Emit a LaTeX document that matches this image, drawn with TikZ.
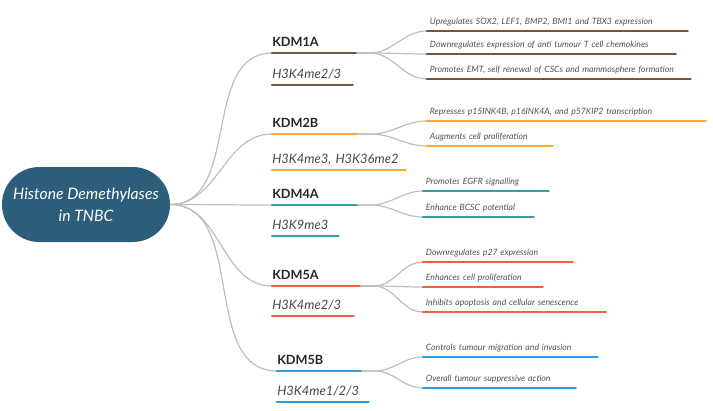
\documentclass[tikz,border=0pt]{standalone}
\usepackage{fontspec}
\setmainfont{Lato}
\definecolor{hubfill}{RGB}{44,94,122}
\definecolor{cBrown}{RGB}{118,84,66}
\definecolor{cOrange}{RGB}{247,174,52}
\definecolor{cTeal}{RGB}{56,158,160}
\definecolor{cRed}{RGB}{242,96,60}
\definecolor{cBlue}{RGB}{48,156,222}
\definecolor{connGray}{RGB}{190,190,190}
\tikzset{
  hub/.style={fill=hubfill, text=white, rounded corners=28pt, minimum width=126pt, minimum height=56.25pt,
    align=center, font=\itshape\fontsize{11.8}{16.5}\selectfont},
  enzyme/.style={anchor=south west, inner xsep=0pt, inner ysep=5pt, text depth=0pt, align=left,
    text=black!85, font=\bfseries\fontsize{9.5}{11}\selectfont, text width=#1},
  mark/.style={anchor=south west, inner xsep=0pt, inner ysep=5pt, text depth=0pt, align=left,
    text=black!72, font=\itshape\fontsize{9.7}{12}\selectfont, text width=#1},
  leaf/.style={anchor=south west, inner xsep=2pt, inner ysep=4.5pt, text depth=0pt, align=left,
    text=black!68, font=\itshape\fontsize{6.5}{8}\selectfont, text width=#1},
  conn/.style={draw=connGray, line width=0.9pt},
  uline/.style={line width=2.2pt, line cap=round, draw=#1}
}
\begin{document}
\begin{tikzpicture}[x=0.75pt,y=0.75pt,yscale=-1,xscale=1]
\useasboundingbox (0,0) rectangle (713,410);

% central topic
\node[hub] (hub) at (86,204.5) {Histone Demethylases\\in TNBC};

% KDM1A
\node[enzyme=62.25pt] (k1) at (272,53) {KDM1A};
\node[mark=60pt] (s1) at (272,85) {H3K4me2/3};
\node[leaf=191pt] (a1) at (427,31) {Upregulates SOX2, LEF1, BMP2, BMI1 and TBX3 expression};
\node[leaf=182pt] (a2) at (427,54) {Downregulates expression of anti tumour T cell chemokines};
\node[leaf=193.25pt] (a3) at (427,79) {Promotes EMT, self renewal of CSCs and mammosphere formation};

% KDM2B
\node[enzyme=63pt] (k2) at (272,134) {KDM2B};
\node[mark=99.75pt] (s2) at (272,170) {H3K4me3, H3K36me2};
\node[leaf=204.5pt] (b1) at (427,121) {Represses p15INK4B, p16INK4A, and p57KIP2 transcription};
\node[leaf=89.75pt] (b2) at (427,146) {Augments cell proliferation};

% KDM4A
\node[enzyme=63pt] (k3) at (272,205) {KDM4A};
\node[mark=49.5pt] (s3) at (272,236) {H3K9me3};
\node[leaf=89.75pt] (c1) at (423,191) {Promotes EGFR signalling};
\node[leaf=78.5pt] (c2) at (423,217) {Enhance BCSC potential};

% KDM5A
\node[enzyme=65.25pt] (k4) at (272,286) {KDM5A};
\node[mark=60.75pt] (s4) at (272,316) {H3K4me2/3};
\node[leaf=107.75pt] (d1) at (423,262) {Downregulates p27 expression};
\node[leaf=85.25pt] (d2) at (423,287) {Enhances cell proliferation};
\node[leaf=132.5pt] (d3) at (423,312) {Inhibits apoptosis and cellular senescence};

% KDM5B
\node[enzyme=62.25pt] (k5) at (277,371) {KDM5B};
\node[mark=68.25pt] (s5) at (277,402) {H3K4me1/2/3};
\node[leaf=126.5pt] (e1) at (423,357) {Controls tumour migration and invasion};
\node[leaf=110pt] (e2) at (423,388) {Overall tumour suppressive action};

% connectors
\foreach \n in {k1,k2,k3,k4,k5}
  \draw[conn] (hub.east) to[out=0,in=180] (\n.south west);
\foreach \k/\l in {k1/a1,k1/a2,k1/a3,k2/b1,k2/b2,k3/c1,k3/c2,k4/d1,k4/d2,k4/d3,k5/e1,k5/e2}
  \draw[conn] (\k.south east) -- ++(14,0) to[out=0,in=180] (\l.south west);

% underlines
\foreach \n in {k1,s1,a1,a2,a3} \draw[uline=cBrown] (\n.south west) -- (\n.south east);
\foreach \n in {k2,s2,b1,b2} \draw[uline=cOrange] (\n.south west) -- (\n.south east);
\foreach \n in {k3,s3,c1,c2} \draw[uline=cTeal] (\n.south west) -- (\n.south east);
\foreach \n in {k4,s4,d1,d2,d3} \draw[uline=cRed] (\n.south west) -- (\n.south east);
\foreach \n in {k5,s5,e1,e2} \draw[uline=cBlue] (\n.south west) -- (\n.south east);
\end{tikzpicture}
\end{document}
